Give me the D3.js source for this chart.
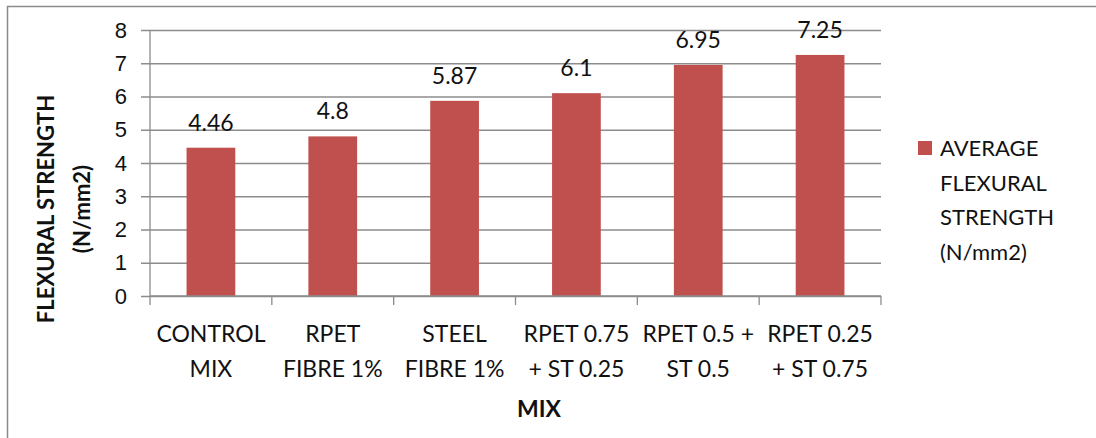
<!DOCTYPE html>
<html>
<head>
<meta charset="utf-8">
<script src="https://cdn.jsdelivr.net/npm/d3@7"></script>
<style>
  html, body { margin: 0; padding: 0; background: #fff; }
  svg { display: block; font-family: Lato, "Open Sans", sans-serif; }
</style>
</head>
<body>
<svg id="chart" width="1096" height="438"></svg>
<script>
// Flexural strength results per concrete mix
const categories = [
  ["CONTROL", "MIX"],
  ["RPET", "FIBRE 1%"],
  ["STEEL", "FIBRE 1%"],
  ["RPET 0.75", "+ ST 0.25"],
  ["RPET 0.5 +", "ST 0.5"],
  ["RPET 0.25", "+ ST 0.75"]
];
const strength = [4.46, 4.8, 5.87, 6.1, 6.95, 7.25];
const yTicks = [0, 1, 2, 3, 4, 5, 6, 7, 8];
const seriesName = ["AVERAGE", "FLEXURAL", "STRENGTH", "(N/mm2)"];
const xTitle = "MIX";
const yTitle = ["FLEXURAL STRENGTH", "(N/mm2)"];

const barColor = "#C0504D";
const gridColor = "#8c8c8c";
const textColor = "#111";

const svg = d3.select("#chart");
const plot = { left: 150, right: 881, top: 30, bottom: 296 };

// outer chart frame (extends past the right and bottom edges)
svg.append("rect")
  .attr("x", 7.5).attr("y", 6.5)
  .attr("width", 1200).attr("height", 500)
  .attr("fill", "none").attr("stroke", "#8a8a8a").attr("stroke-width", 1.5);

const keys = categories.map((d, i) => i);
const x = d3.scaleBand().domain(keys).range([plot.left, plot.right])
  .paddingInner(0.6).paddingOuter(0.3);
const xb = d3.scaleBand().domain(keys).range([plot.left, plot.right]);
const y = d3.scaleLinear().domain([0, 8]).range([plot.bottom, plot.top]);

// horizontal gridlines + y axis ticks
const yAxis = d3.axisLeft(y).tickValues(yTicks).tickSize(plot.right - plot.left + 9)
  .tickSizeOuter(0).tickPadding(14).tickFormat(d3.format("d"));
const gy = svg.append("g").attr("transform", `translate(${plot.right},0)`).call(yAxis);
gy.select(".domain").remove();
gy.selectAll(".tick line").attr("stroke", gridColor).attr("stroke-width", 1.3);
gy.selectAll(".tick text").attr("fill", textColor).style("font-size", "22px");

// bars
svg.append("g").selectAll("rect").data(strength).join("rect")
  .attr("x", (d, i) => x(i))
  .attr("width", x.bandwidth())
  .attr("y", d => y(d))
  .attr("height", d => y(0) - y(d))
  .attr("fill", barColor);

// value labels
svg.append("g").selectAll("text").data(strength).join("text")
  .attr("x", (d, i) => x(i) + x.bandwidth() / 2)
  .attr("y", d => y(d) - 17)
  .attr("text-anchor", "middle")
  .attr("fill", textColor)
  .style("font-size", "23px")
  .text(d => d);

// vertical value axis line
svg.append("line")
  .attr("x1", plot.left).attr("x2", plot.left)
  .attr("y1", y(8)).attr("y2", y(0))
  .attr("stroke", gridColor).attr("stroke-width", 1.3);

// category axis with boundary tick marks
const gx = svg.append("g").attr("transform", `translate(0,${plot.bottom})`);
gx.append("line").attr("x1", plot.left).attr("x2", plot.right)
  .attr("stroke", gridColor).attr("stroke-width", 1.3);
const bounds = keys.map(i => xb(i)).concat([plot.right]);
gx.selectAll("line.tk").data(bounds).join("line").attr("class", "tk")
  .attr("x1", d => d).attr("x2", d => d).attr("y1", 0).attr("y2", 9)
  .attr("stroke", gridColor).attr("stroke-width", 1.3);

const catText = svg.append("g").selectAll("text").data(categories).join("text")
  .attr("text-anchor", "middle")
  .attr("fill", textColor)
  .style("font-size", "23px");
catText.selectAll("tspan").data((d, i) => d.map(s => ({ s, i }))).join("tspan")
  .attr("x", d => xb(d.i) + xb.bandwidth() / 2)
  .attr("y", (d, j) => 342 + j * 35)
  .text(d => d.s);

// axis titles
svg.append("text")
  .attr("x", 539).attr("y", 417)
  .attr("text-anchor", "middle").attr("fill", textColor)
  .style("font-size", "23px").style("font-weight", "bold")
  .text(xTitle);

const yt = svg.append("text")
  .attr("transform", "translate(0,209) rotate(-90)")
  .attr("text-anchor", "middle").attr("fill", textColor)
  .style("font-size", "22px").style("font-weight", "bold");
yt.selectAll("tspan").data(yTitle).join("tspan")
  .attr("x", 0).attr("y", (d, i) => 54 + i * 36)
  .text(d => d);

// legend
const lg = svg.append("g");
lg.append("rect").attr("x", 918).attr("y", 141).attr("width", 14).attr("height", 14)
  .attr("fill", barColor);
lg.selectAll("text").data(seriesName).join("text")
  .attr("x", 940).attr("y", (d, i) => 156 + i * 34.5)
  .attr("fill", textColor)
  .style("font-size", "22px")
  .text(d => d);
</script>
</body>
</html>
